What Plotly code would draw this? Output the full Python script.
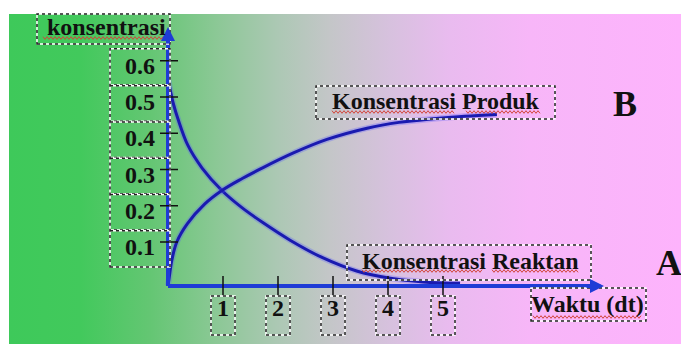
import base64
import plotly.graph_objects as go

W, H = 681, 344

# data
waktu_reaktan = [0, 0.04, 0.1, 0.18, 0.36, 0.62, 0.98, 1.35, 1.71, 2.22, 2.82, 3.43, 4.04, 4.64, 5.31]
konsentrasi_reaktan = [0.55, 0.52, 0.48, 0.44, 0.367, 0.304, 0.242, 0.194, 0.155, 0.105, 0.056, 0.02, 0.0, -0.01, -0.014]

waktu_produk = [0, 0.02, 0.07, 0.16, 0.35, 0.67, 0.98, 1.35, 1.7, 2.27, 2.89, 3.62, 4.2, 4.82, 5.4, 5.98]
konsentrasi_produk = [-0.02, 0.0, 0.05, 0.1, 0.15, 0.205, 0.242, 0.275, 0.303, 0.345, 0.383, 0.414, 0.43, 0.44, 0.447, 0.452]

y_ticks = [0.1, 0.2, 0.3, 0.4, 0.5, 0.6]
y_labels = ['0.1', '0.2', '0.3', '0.4', '0.5', '0.6']
x_ticks = [1, 2, 3, 4, 5]
x_labels = ['1', '2', '3', '4', '5']

# window pixel -> axis units
X0, XS = 168, 55.0
Y0, YS = 278.25, 362.5
def tx(px): return (px - X0) / XS
def vy(py): return (Y0 - py) / YS

FONT = 'Liberation Serif'
INK = '#111111'
AXIS = '#1f3cd6'
CURVE = '#1a1ab0'
PINK = '#fdb3fc'
base = vy(286)

# gradient background
stops = [(0, '#3ec95a'), (0.106, '#42c95c'), (0.21, '#64c673'), (0.31, '#8cc896'),
         (0.40, '#acc8b4'), (0.478, '#c4c6c8'), (0.567, '#d7c1de'), (0.656, '#e9bbef'),
         (0.775, '#f7b6f8'), (1, PINK)]
svg = ("<svg xmlns='http://www.w3.org/2000/svg' width='672' height='330' viewBox='0 0 672 330' preserveAspectRatio='none'>"
       "<defs><linearGradient id='g' x1='0' x2='1' y1='0' y2='0'>"
       + ''.join(f"<stop offset='{o}' stop-color='{c}'/>" for o, c in stops)
       + "</linearGradient></defs><rect width='672' height='330' fill='url(#g)'/></svg>")
bg = 'data:image/svg+xml;base64,' + base64.b64encode(svg.encode()).decode()

fig = go.Figure()
for xs, ys in [(waktu_reaktan, konsentrasi_reaktan), (waktu_produk, konsentrasi_produk)]:
    fig.add_trace(go.Scatter(x=xs, y=ys, mode='lines', line=dict(color='rgba(90,90,255,0.3)', width=6, shape='spline'),
                             hoverinfo='skip', cliponaxis=False))
    fig.add_trace(go.Scatter(x=xs, y=ys, mode='lines', line=dict(color=CURVE, width=3, shape='spline'),
                             cliponaxis=False))

shapes = []
# white page edge at top and left
shapes.append(dict(type='rect', xref='paper', yref='paper', x0=0, x1=1, y0=1 - 14 / H, y1=1,
                   fillcolor='white', line=dict(width=0), layer='below'))
shapes.append(dict(type='rect', xref='paper', yref='paper', x0=0, x1=9 / W, y0=0, y1=1,
                   fillcolor='white', line=dict(width=0), layer='below'))
# axes
shapes.append(dict(type='line', x0=0, x1=tx(595), y0=base, y1=base, line=dict(color=AXIS, width=4)))
shapes.append(dict(type='line', x0=0, x1=0, y0=base, y1=vy(36), line=dict(color=AXIS, width=4)))
# ticks
for v in y_ticks:
    shapes.append(dict(type='line', x0=tx(160), x1=tx(178), y0=v, y1=v, line=dict(color=INK, width=1.5)))
for t in x_ticks:
    shapes.append(dict(type='line', x0=t, x1=t, y0=vy(276), y1=vy(296), line=dict(color=INK, width=1.5)))

def box(x0, x1, y0, y1):
    for col, dash in [('white', 'solid'), ('#222222', 'dot')]:
        shapes.append(dict(type='rect', xref='x', yref='y', x0=x0, x1=x1, y0=y0, y1=y1,
                           line=dict(color=col, width=1.5, dash=dash)))

box(tx(37), tx(170), vy(44), vy(14))
for v in y_ticks:
    box(tx(110), tx(170), v - 25 / YS, v + 12 / YS)
for t in x_ticks:
    box(t - 12 / XS, t + 12 / XS, vy(335), vy(296))
box(tx(316), tx(555), vy(119), vy(86))
box(tx(347), tx(591), vy(280), vy(245))
box(tx(531), tx(646), vy(321), vy(288))

def squiggle(x0, x1, y):
    pts = []
    x, k = x0, 0
    while x <= x1:
        yy = y + (1.3 if k % 2 else -1.3)
        pts.append(f'{x / W:.5f},{1 - yy / H:.5f}')
        x += 2
        k += 1
    shapes.append(dict(type='path', xref='paper', yref='paper', path='M ' + ' L '.join(pts),
                       line=dict(color='#d2463c', width=1)))

squiggle(43, 163, 38)
squiggle(332, 455, 112)
squiggle(466, 541, 112)
squiggle(362, 483, 271)
squiggle(492, 578, 271)
squiggle(533, 642, 317)

ann = []
# arrow heads
ann.append(dict(x=tx(604), y=base, ax=tx(585), ay=base, axref='x', ayref='y', text='', showarrow=True,
                arrowhead=2, arrowsize=0.7, arrowwidth=4, arrowcolor=AXIS))
ann.append(dict(x=0, y=vy(27), ax=0, ay=vy(45), axref='x', ayref='y', text='', showarrow=True,
                arrowhead=2, arrowsize=0.7, arrowwidth=4, arrowcolor=AXIS))

def label(text, x, y, size=24, xanchor='center'):
    ann.append(dict(x=x, y=y, text=f'<b>{text}</b>', showarrow=False, xanchor=xanchor, yanchor='middle',
                    font=dict(family=FONT, size=size, color=INK)))

label('konsentrasi', tx(106), vy(27))
for v, s in zip(y_ticks, y_labels):
    label(s, tx(140), v - 5 / YS)
for t, s in zip(x_ticks, x_labels):
    label(s, t, vy(308))
label('Konsentrasi Produk', tx(436), vy(101))
label('Konsentrasi Reaktan', tx(470), vy(261))
label('Waktu (dt)', tx(587), vy(304))
label('A', tx(654), vy(263), size=36, xanchor='left')
label('B', tx(625), vy(104), size=36)

fig.update_layout(width=W, height=H, autosize=False, margin=dict(l=0, r=0, t=0, b=0),
                  paper_bgcolor=PINK, plot_bgcolor='rgba(0,0,0,0)', showlegend=False,
                  xaxis=dict(range=[tx(0), tx(W)], visible=False, fixedrange=True),
                  yaxis=dict(range=[vy(H), vy(0)], visible=False, fixedrange=True),
                  shapes=shapes, annotations=ann,
                  images=[dict(source=bg, xref='paper', yref='paper', x=9 / W, y=1 - 14 / H,
                               sizex=1 - 9 / W, sizey=1 - 14 / H, xanchor='left', yanchor='top',
                               sizing='stretch', layer='below')])
# drop the default body margin and scrollbars so the figure fills the window
fig.write_html("out.html", config=dict(displayModeBar=False),
               post_script="document.body.style.margin='0';document.body.style.overflow='hidden';")
